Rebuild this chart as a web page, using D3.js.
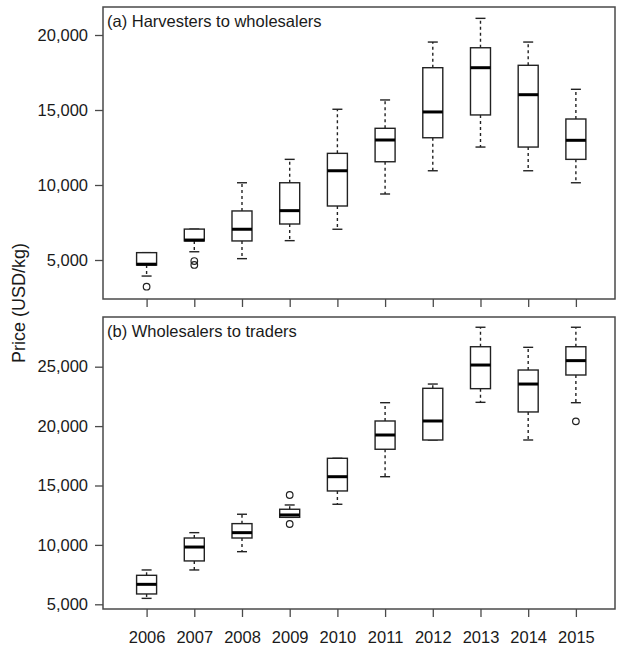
<!DOCTYPE html>
<html>
<head>
<meta charset="utf-8">
<script src="https://cdn.jsdelivr.net/npm/d3@7"></script>
<style>
  body { margin: 0; background: #fff; }
  svg { display: block; }
  text { font-family: "Liberation Sans", Arial, Helvetica, sans-serif; fill: #1a1a1a; }
</style>
</head>
<body>
<svg id="chart" width="617" height="651"></svg>
<script>
// ---------- Data ----------
const years = ["2006","2007","2008","2009","2010","2011","2012","2013","2014","2015"];

// Panel (a) Harvesters to wholesalers
const aWhiskLo = [3930, 5550, 5090, 6290, 7050, 9400, 10950, 12530, 10950, 10150];
const aQ1      = [4660, 6270, 6270, 7400, 8600, 11550, 13150, 14670, 12530, 11710];
const aMedian  = [4720, 6330, 7050, 8290, 10950, 13000, 14870, 17820, 16020, 12980];
const aQ3      = [5490, 7060, 8270, 10150, 12110, 13780, 17820, 19150, 17980, 14400];
const aWhiskHi = [5490, 7060, 10150, 11710, 15050, 15670, 19530, 21110, 19530, 16380];
const aOutYear = ["2006", "2007", "2007"];
const aOutVal  = [3220, 4930, 4670];

// Panel (b) Wholesalers to traders
const bWhiskLo = [5500, 7890, 9430, 12320, 13420, 15740, 18830, 22000, 18830, 21970];
const bQ1      = [5870, 8650, 10580, 12320, 14540, 18050, 18830, 23150, 21190, 24300];
const bMedian  = [6680, 9820, 11030, 12520, 15740, 19250, 20430, 25140, 23540, 25510];
const bQ3      = [7440, 10580, 11790, 13000, 17290, 20430, 23180, 26680, 24720, 26680];
const bWhiskHi = [7890, 11030, 12580, 13360, 17290, 21970, 23540, 28320, 26630, 28320];
const bOutYear = ["2009", "2009", "2015"];
const bOutVal  = [14200, 11760, 20400];

const aTicks = [5000, 10000, 15000, 20000];
const bTicks = [5000, 10000, 15000, 20000, 25000];

const panelTitles = ["(a) Harvesters to wholesalers", "(b) Wholesalers to traders"];
const yTitle = "Price (USD/kg)";

// ---------- Layout ----------
const svg = d3.select("#chart");
const left = 103, right = 615;
const panels = [
  { top: 7, bottom: 299, domain: [2400, 21867], ticks: aTicks, title: panelTitles[0],
    lo: aWhiskLo, q1: aQ1, med: aMedian, q3: aQ3, hi: aWhiskHi, outY: aOutYear, outV: aOutVal, labels: false },
  { top: 317, bottom: 609, domain: [4604, 29183], ticks: bTicks, title: panelTitles[1],
    lo: bWhiskLo, q1: bQ1, med: bMedian, q3: bQ3, hi: bWhiskHi, outY: bOutYear, outV: bOutVal, labels: true }
];

const x = d3.scaleLinear().domain([-0.914, 9.82]).range([left, right]);
const xi = yr => x(years.indexOf(yr));
const fmt = d3.format(",");
const frameColor = "#4a4a4a";
const boxW = 20, capW = 10;

panels.forEach(p => {
  const y = d3.scaleLinear().domain(p.domain).range([p.bottom, p.top]);
  const g = svg.append("g");

  years.forEach((yr, i) => {
    const cx = xi(yr);
    const bg = g.append("g");
    if (p.hi[i] > p.q3[i]) {
      bg.append("line").attr("x1", cx).attr("x2", cx).attr("y1", y(p.q3[i])).attr("y2", y(p.hi[i]))
        .attr("stroke", "#222").attr("stroke-width", 1.4).attr("stroke-dasharray", "3,3");
    }
    bg.append("line").attr("x1", cx - capW/2).attr("x2", cx + capW/2).attr("y1", y(p.hi[i])).attr("y2", y(p.hi[i]))
      .attr("stroke", "#222").attr("stroke-width", 1.4);
    if (p.lo[i] < p.q1[i]) {
      bg.append("line").attr("x1", cx).attr("x2", cx).attr("y1", y(p.q1[i])).attr("y2", y(p.lo[i]))
        .attr("stroke", "#222").attr("stroke-width", 1.4).attr("stroke-dasharray", "3,3");
    }
    bg.append("line").attr("x1", cx - capW/2).attr("x2", cx + capW/2).attr("y1", y(p.lo[i])).attr("y2", y(p.lo[i]))
      .attr("stroke", "#222").attr("stroke-width", 1.4);
    bg.append("rect").attr("x", cx - boxW/2).attr("y", y(p.q3[i]))
      .attr("width", boxW).attr("height", y(p.q1[i]) - y(p.q3[i]))
      .attr("fill", "#fff").attr("stroke", "#222").attr("stroke-width", 1.4);
    bg.append("line").attr("x1", cx - boxW/2).attr("x2", cx + boxW/2).attr("y1", y(p.med[i])).attr("y2", y(p.med[i]))
      .attr("stroke", "#000").attr("stroke-width", 3);
  });

  p.outY.forEach((yr, k) => {
    g.append("circle").attr("cx", xi(yr)).attr("cy", y(p.outV[k])).attr("r", 3.3)
      .attr("fill", "none").attr("stroke", "#222").attr("stroke-width", 1.2);
  });

  g.append("rect").attr("x", left).attr("y", p.top).attr("width", right - left).attr("height", p.bottom - p.top)
    .attr("fill", "none").attr("stroke", frameColor).attr("stroke-width", 1.5);

  const ya = d3.axisLeft(y).tickValues(p.ticks).tickFormat(fmt).tickSize(8).tickPadding(7);
  const yg = g.append("g").attr("transform", `translate(${left},0)`).call(ya);
  yg.select(".domain").remove();
  yg.selectAll(".tick line").attr("stroke", frameColor).attr("stroke-width", 1.3);
  yg.selectAll(".tick text").attr("font-size", 16.5).attr("fill", "#1a1a1a")
    .attr("font-family", "'Liberation Sans', Arial, sans-serif");

  const xa = d3.axisBottom(x).tickValues(d3.range(years.length)).tickSize(8).tickPadding(14)
    .tickFormat(i => p.labels ? years[i] : "");
  const xg = g.append("g").attr("transform", `translate(0,${p.bottom})`).call(xa);
  xg.select(".domain").remove();
  xg.selectAll(".tick line").attr("stroke", frameColor).attr("stroke-width", 1.3);
  xg.selectAll(".tick text").attr("font-size", 16.5).attr("fill", "#1a1a1a")
    .attr("font-family", "'Liberation Sans', Arial, sans-serif");

  g.append("text").attr("x", left + 4).attr("y", p.top + 20).attr("font-size", 16.5).text(p.title);
});

svg.append("text").attr("transform", "translate(25,303) rotate(-90)")
  .attr("text-anchor", "middle").attr("font-size", 18).text(yTitle);
</script>
</body>
</html>
